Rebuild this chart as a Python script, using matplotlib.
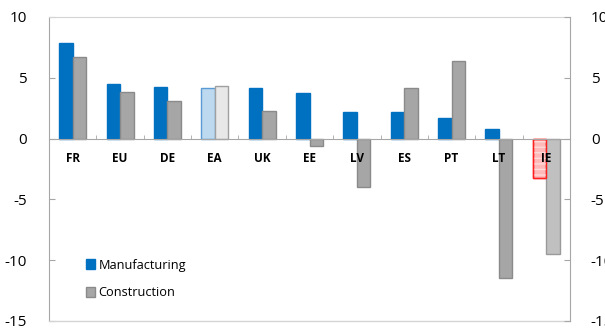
import matplotlib
matplotlib.use("Agg")
import matplotlib.pyplot as plt
from matplotlib.patches import Patch
import numpy as np

plt.rcParams['font.family'] = ['Open Sans', 'DejaVu Sans']

categories = ["FR", "EU", "DE", "EA", "UK", "EE", "LV", "ES", "PT", "LT", "IE"]
manufacturing = [7.85, 4.45, 4.27, 4.2, 4.16, 3.75, 2.15, 2.15, 1.7, 0.83, -3.25]
construction = [6.75, 3.85, 3.08, 4.32, 2.26, -0.58, -3.95, 4.19, 6.36, -11.45, -9.45]
yticks = [-15, -10, -5, 0, 5, 10]

MFG_COLOR = "#0070c0"
CON_COLOR = "#a6a6a6"
CON_EDGE = "#8a8a8a"
AXIS_GRAY = "#a6a6a6"

fig = plt.figure(figsize=(6.05, 3.30), dpi=100)
ax = fig.add_axes([49 / 605, 1 - 321 / 330, (570 - 49) / 605, (321 - 17) / 330])

x = np.arange(len(categories))
w = 0.285

mfg_face = [MFG_COLOR] * len(categories)
mfg_edge = [MFG_COLOR] * len(categories)
con_face = [CON_COLOR] * len(categories)
con_edge = [CON_EDGE] * len(categories)

# highlighted aggregate / outlier
ea = categories.index("EA")
ie = categories.index("IE")
mfg_face[ea], mfg_edge[ea] = "#bdd9ef", "#5b9bd5"
con_face[ea], con_edge[ea] = "#e8e8e8", "#a0a0a0"
mfg_face[ie], mfg_edge[ie] = "#ffb9b9", "#ff2020"
con_face[ie], con_edge[ie] = "#c0c0c0", "#9a9a9a"

ax.bar(x - w / 2, manufacturing, w, color=mfg_face, edgecolor=mfg_edge,
       linewidth=1.0, zorder=1)
ax.bar(x + w / 2, construction, w, color=con_face, edgecolor=con_edge,
       linewidth=1.0, zorder=1)

# faint striping on the Irish manufacturing bar
ax.bar(x[ie] - w / 2, manufacturing[ie], w, facecolor="none",
       edgecolor="#ffdada", hatch="---", linewidth=0, zorder=1.1)
ax.bar(x[ie] - w / 2, manufacturing[ie], w, fill=False,
       edgecolor="#ff2020", linewidth=1.0, zorder=1.2)

ax.set_xlim(-0.5, len(categories) - 0.5)
ax.set_ylim(-15, 10)
ax.set_yticks(yticks)
ax.set_yticklabels([str(v) for v in yticks])

# category axis sits on the zero line
ax.spines['bottom'].set_position(('data', 0))
ax.spines['bottom'].set_color(AXIS_GRAY)
ax.spines['left'].set_color(AXIS_GRAY)
ax.spines['right'].set_visible(False)
ax.spines['top'].set_color("#d4d4d4")
ax.plot([0, 1], [0, 0], transform=ax.transAxes, color="#d4d4d4",
        linewidth=1.0, clip_on=False, zorder=3)

ax.set_xticks(x)
ax.set_xticklabels(categories, fontsize=8.5, fontweight='bold')
ax.set_xticks(np.arange(0.5, len(categories) - 0.5, 1), minor=True)
ax.tick_params(axis='x', which='major', length=0, pad=10)
ax.tick_params(axis='x', which='minor', direction='in', length=3,
               color=AXIS_GRAY)
ax.tick_params(axis='y', direction='in', length=4, color=AXIS_GRAY,
               labelsize=11, pad=16)

ax2 = ax.twinx()
ax2.set_ylim(ax.get_ylim())
ax2.set_yticks(yticks)
ax2.set_yticklabels([str(v) for v in yticks])
ax2.tick_params(axis='y', direction='in', length=4, color=AXIS_GRAY,
                labelsize=11, pad=15)
for side in ('left', 'top', 'bottom'):
    ax2.spines[side].set_visible(False)
ax2.spines['right'].set_color(AXIS_GRAY)

handles = [Patch(facecolor=MFG_COLOR, edgecolor=MFG_COLOR, label="Manufacturing"),
           Patch(facecolor=CON_COLOR, edgecolor=CON_EDGE, label="Construction")]
ax.legend(handles=handles, loc='upper left', bbox_to_anchor=(0.061, 0.222),
          frameon=False, fontsize=9.2, handlelength=0.75, handleheight=0.75,
          handletextpad=0.25, labelspacing=1.15, borderaxespad=0)

fig.savefig("out.png", dpi=100)
